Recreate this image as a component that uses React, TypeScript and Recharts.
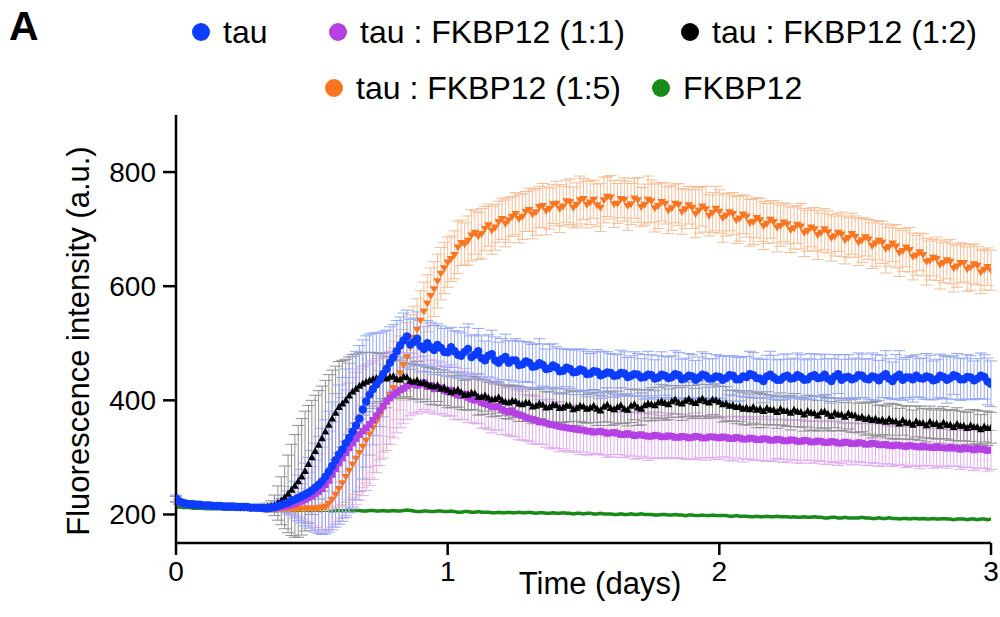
import React from 'react';
import { ComposedChart, Line, XAxis, YAxis, ErrorBar } from 'recharts';

// Sampling grid (days), 20 readings per quarter-day row
const times = [
  0, 0.0125, 0.025, 0.0375, 0.05, 0.0625, 0.075, 0.0875, 0.1, 0.1125, 0.125, 0.1375, 0.15, 0.1625, 0.175, 0.1875, 0.2, 0.2125, 0.225, 0.2375,
  0.25, 0.2625, 0.275, 0.2875, 0.3, 0.3125, 0.325, 0.3375, 0.35, 0.3625, 0.375, 0.3875, 0.4, 0.4125, 0.425, 0.4375, 0.45, 0.4625, 0.475, 0.4875,
  0.5, 0.5125, 0.525, 0.5375, 0.55, 0.5625, 0.575, 0.5875, 0.6, 0.6125, 0.625, 0.6375, 0.65, 0.6625, 0.675, 0.6875, 0.7, 0.7125, 0.725, 0.7375,
  0.75, 0.7625, 0.775, 0.7875, 0.8, 0.8125, 0.825, 0.8375, 0.85, 0.8625, 0.875, 0.8875, 0.9, 0.9125, 0.925, 0.9375, 0.95, 0.9625, 0.975, 0.9875,
  1.0, 1.0125, 1.025, 1.0375, 1.05, 1.0625, 1.075, 1.0875, 1.1, 1.1125, 1.125, 1.1375, 1.15, 1.1625, 1.175, 1.1875, 1.2, 1.2125, 1.225, 1.2375,
  1.25, 1.2625, 1.275, 1.2875, 1.3, 1.3125, 1.325, 1.3375, 1.35, 1.3625, 1.375, 1.3875, 1.4, 1.4125, 1.425, 1.4375, 1.45, 1.4625, 1.475, 1.4875,
  1.5, 1.5125, 1.525, 1.5375, 1.55, 1.5625, 1.575, 1.5875, 1.6, 1.6125, 1.625, 1.6375, 1.65, 1.6625, 1.675, 1.6875, 1.7, 1.7125, 1.725, 1.7375,
  1.75, 1.7625, 1.775, 1.7875, 1.8, 1.8125, 1.825, 1.8375, 1.85, 1.8625, 1.875, 1.8875, 1.9, 1.9125, 1.925, 1.9375, 1.95, 1.9625, 1.975, 1.9875,
  2.0, 2.0125, 2.025, 2.0375, 2.05, 2.0625, 2.075, 2.0875, 2.1, 2.1125, 2.125, 2.1375, 2.15, 2.1625, 2.175, 2.1875, 2.2, 2.2125, 2.225, 2.2375,
  2.25, 2.2625, 2.275, 2.2875, 2.3, 2.3125, 2.325, 2.3375, 2.35, 2.3625, 2.375, 2.3875, 2.4, 2.4125, 2.425, 2.4375, 2.45, 2.4625, 2.475, 2.4875,
  2.5, 2.5125, 2.525, 2.5375, 2.55, 2.5625, 2.575, 2.5875, 2.6, 2.6125, 2.625, 2.6375, 2.65, 2.6625, 2.675, 2.6875, 2.7, 2.7125, 2.725, 2.7375,
  2.75, 2.7625, 2.775, 2.7875, 2.8, 2.8125, 2.825, 2.8375, 2.85, 2.8625, 2.875, 2.8875, 2.9, 2.9125, 2.925, 2.9375, 2.95, 2.9625, 2.975, 2.9875,
  3.0,
];

// tau
const tau = [
  228, 223, 220, 219, 218, 218, 217, 217, 216, 216, 216, 215, 215, 215, 214, 214, 214, 214, 213, 213,
  213, 213, 212, 212, 212, 212, 211, 211, 212, 213, 215, 217, 219, 221, 224, 226, 229, 232, 235, 238,
  242, 247, 252, 258, 266, 275, 285, 295, 305, 314, 325, 334, 345, 356, 368, 384, 398, 410, 420, 428,
  436, 446, 455, 466, 475, 486, 496, 505, 512, 498, 502, 508, 495, 490, 500, 493, 488, 497, 492, 485,
  484, 493, 486, 480, 478, 485, 490, 476, 480, 486, 474, 470, 478, 481, 470, 466, 472, 476, 466, 470,
  470, 462, 463, 468, 466, 459, 460, 465, 462, 455, 456, 461, 458, 451, 452, 457, 455, 449, 450, 454,
  452, 446, 447, 451, 450, 444, 446, 449, 448, 443, 444, 448, 447, 441, 443, 446, 445, 440, 441, 445,
  444, 438, 440, 445, 443, 439, 441, 446, 444, 437, 439, 443, 442, 436, 440, 445, 443, 438, 438, 442,
  441, 436, 439, 444, 443, 437, 437, 442, 441, 446, 444, 439, 438, 434, 442, 445, 440, 436, 436, 441,
  443, 438, 439, 444, 441, 436, 437, 442, 444, 439, 440, 445, 438, 434, 442, 446, 436, 440, 441, 437,
  439, 444, 443, 438, 437, 442, 440, 435, 442, 446, 438, 434, 441, 445, 436, 440, 440, 437, 443, 439,
  438, 442, 440, 435, 437, 443, 441, 436, 439, 444, 442, 437, 437, 441, 440, 435, 438, 443, 441, 433,
  429,
];
const tauErr = [
  6, 4, 3, 3, 3, 3, 3, 3, 3, 3, 3, 3, 3, 3, 3, 3, 3, 3, 3, 3,
  3, 3, 3, 3, 3, 3, 4, 4, 5, 6, 8, 11, 15, 20, 25, 32, 40, 47, 55, 62,
  70, 78, 85, 93, 100, 106, 112, 117, 122, 126, 130, 131, 132, 130, 128, 122, 115, 106, 98, 90,
  82, 75, 68, 63, 58, 54, 50, 48, 46, 44, 42, 47, 45, 39, 40, 44, 43, 37, 38, 41,
  42, 35, 36, 41, 40, 43, 44, 37, 35, 40, 39, 34, 37, 42, 41, 36, 36, 40, 38, 35,
  38, 42, 40, 35, 35, 39, 39, 43, 37, 35, 42, 38, 36, 40, 38, 33, 34, 39, 40, 36,
  37, 40, 35, 34, 39, 41, 40, 36, 34, 38, 36, 40, 38, 34, 35, 39, 37, 33, 39, 41,
  36, 33, 38, 40, 34, 37, 37, 41, 40, 35, 35, 39, 38, 34, 36, 40, 39, 35, 35, 38,
  37, 41, 39, 34, 35, 39, 38, 35, 36, 40, 40, 35, 34, 38, 37, 41, 39, 35, 36, 40,
  38, 34, 35, 39, 39, 35, 36, 40, 37, 33, 40, 36, 35, 39, 38, 34, 36, 40, 39, 35,
  35, 39, 38, 34, 36, 41, 40, 35, 37, 41, 35, 33, 39, 42, 36, 35, 38, 40, 37, 34,
  36, 40, 39, 34, 35, 38, 38, 41, 37, 34, 40, 37, 36, 39, 38, 34, 35, 40, 39, 41,
  40,
];

// tau : FKBP12 (1:1)
const ratio11 = [
  227, 222, 220, 219, 218, 218, 217, 217, 216, 216, 215, 215, 215, 214, 214, 214, 213, 213, 213, 213,
  212, 212, 212, 212, 211, 211, 211, 211, 211, 211, 212, 213, 214, 215, 217, 219, 221, 223, 226, 229,
  232, 236, 240, 245, 252, 260, 270, 280, 290, 299, 308, 317, 325, 333, 340, 346, 352, 358, 365, 373,
  382, 390, 398, 404, 410, 414, 418, 421, 425, 428, 430, 426, 428, 431, 424, 426, 420, 423, 422, 417,
  415, 418, 412, 409, 408, 411, 405, 402, 400, 403, 396, 394, 392, 389, 388, 390, 384, 381, 380, 382,
  377, 375, 373, 370, 368, 367, 365, 362, 362, 360, 358, 357, 356, 354, 353, 352, 351, 350, 349, 348,
  348, 346, 346, 344, 345, 346, 344, 342, 343, 344, 342, 340, 340, 342, 340, 338, 339, 340, 338, 337,
  337, 339, 338, 336, 336, 338, 337, 335, 335, 337, 336, 334, 335, 337, 336, 334, 334, 336, 336, 335,
  334, 336, 335, 333, 333, 335, 334, 332, 332, 334, 333, 331, 331, 333, 332, 330, 330, 332, 331, 329,
  329, 331, 330, 328, 328, 330, 329, 327, 327, 329, 328, 326, 326, 328, 327, 325, 325, 327, 326, 324,
  324, 326, 325, 323, 323, 325, 324, 322, 322, 323, 321, 320, 322, 321, 320, 319, 321, 320, 319, 318,
  320, 318, 318, 317, 319, 317, 317, 316, 318, 316, 316, 314, 317, 315, 315, 313, 316, 314, 314, 312,
  313,
];
const ratio11Err = [
  5, 4, 3, 3, 3, 3, 3, 3, 3, 3, 3, 3, 3, 3, 3, 3, 3, 3, 3, 3,
  3, 3, 3, 3, 3, 3, 3, 3, 3, 3, 3, 5, 8, 11, 15, 20, 25, 31, 38, 45,
  52, 59, 66, 73, 80, 86, 92, 97, 102, 106, 110, 113, 115, 116, 115, 113, 110, 107, 104, 100,
  96, 91, 86, 81, 76, 71, 66, 62, 58, 55, 52, 50, 48, 47, 46, 45, 44, 46, 45, 43,
  43, 45, 46, 42, 42, 45, 44, 41, 41, 44, 45, 42, 43, 46, 40, 42, 44, 41, 42, 45,
  41, 44, 43, 40, 40, 43, 42, 39, 39, 42, 43, 40, 41, 44, 38, 40, 42, 39, 40, 43,
  39, 42, 41, 38, 38, 41, 40, 42, 42, 39, 37, 40, 40, 38, 38, 41, 41, 38, 39, 42,
  38, 41, 40, 37, 37, 40, 39, 36, 36, 39, 40, 37, 38, 41, 37, 35, 39, 37, 36, 38,
  38, 35, 36, 39, 39, 36, 37, 40, 35, 37, 38, 36, 36, 39, 39, 36, 37, 34, 35, 38,
  37, 34, 35, 38, 38, 35, 34, 37, 37, 34, 35, 38, 38, 35, 36, 39, 36, 33, 34, 37,
  36, 33, 34, 37, 37, 34, 35, 38, 37, 34, 33, 36, 36, 33, 34, 37, 37, 34, 35, 38,
  35, 32, 33, 36, 36, 33, 32, 35, 34, 31, 32, 35, 35, 32, 33, 36, 36, 33, 33, 36,
  34,
];

// tau : FKBP12 (1:2)
const ratio12 = [
  227, 222, 220, 219, 218, 218, 217, 217, 216, 216, 216, 215, 215, 215, 214, 214, 214, 214, 213, 213,
  213, 213, 212, 212, 212, 212, 212, 213, 214, 216, 220, 224, 230, 236, 243, 250, 258, 266, 276, 288,
  300, 311, 322, 333, 345, 357, 368, 378, 388, 394, 400, 408, 415, 420, 425, 429, 432, 435, 437, 439,
  440, 443, 438, 441, 442, 437, 436, 441, 440, 434, 432, 435, 430, 431, 428, 425, 424, 426, 420, 422,
  418, 414, 416, 418, 414, 409, 410, 413, 412, 406, 406, 408, 404, 401, 402, 405, 400, 397, 396, 399,
  398, 394, 393, 396, 395, 389, 390, 394, 392, 387, 388, 392, 391, 386, 387, 391, 390, 384, 386, 390,
  389, 385, 387, 390, 385, 382, 389, 392, 386, 384, 388, 391, 385, 383, 390, 393, 387, 385, 391, 394,
  393, 391, 396, 398, 395, 393, 398, 401, 396, 394, 399, 402, 397, 395, 400, 403, 398, 396, 401, 400,
  397, 393, 394, 390, 391, 388, 389, 385, 387, 384, 388, 383, 385, 381, 386, 383, 383, 379, 385, 381,
  381, 378, 383, 380, 379, 375, 381, 378, 377, 373, 379, 380, 376, 372, 378, 375, 375, 371, 377, 374,
  373, 369, 371, 367, 369, 365, 368, 364, 366, 362, 367, 363, 363, 359, 365, 361, 361, 357, 363, 360,
  360, 356, 362, 358, 359, 355, 361, 357, 357, 353, 358, 355, 355, 351, 356, 353, 353, 349, 354, 351,
  352,
];
const ratio12Err = [
  5, 4, 3, 3, 3, 3, 3, 3, 3, 3, 3, 3, 3, 3, 3, 3, 3, 3, 3, 3,
  3, 3, 3, 3, 3, 4, 5, 7, 10, 18, 30, 42, 55, 68, 80, 90, 98, 102, 105, 103,
  100, 98, 95, 92, 90, 88, 85, 82, 80, 76, 72, 68, 65, 61, 58, 55, 52, 49, 47, 44,
  42, 40, 38, 36, 35, 34, 33, 35, 34, 31, 31, 33, 33, 29, 30, 32, 32, 28, 29, 31,
  31, 27, 28, 30, 30, 26, 27, 29, 29, 32, 31, 27, 28, 30, 30, 27, 27, 29, 29, 26,
  28, 31, 30, 27, 27, 30, 29, 26, 31, 28, 28, 30, 29, 26, 26, 29, 27, 31, 30, 27,
  28, 25, 26, 29, 29, 26, 27, 30, 30, 27, 28, 31, 26, 28, 29, 27, 31, 28, 27, 25,
  29, 26, 27, 30, 30, 27, 28, 25, 26, 29, 27, 30, 29, 26, 28, 31, 30, 27, 26, 29,
  28, 31, 30, 27, 27, 29, 26, 28, 30, 27, 28, 31, 27, 29, 29, 26, 26, 28, 28, 25,
  27, 30, 29, 26, 26, 29, 28, 30, 30, 27, 27, 30, 29, 26, 26, 28, 28, 25, 27, 30,
  29, 26, 26, 28, 28, 31, 30, 27, 26, 28, 28, 31, 30, 27, 26, 29, 29, 26, 27, 30,
  26, 29, 28, 25, 27, 30, 28, 25, 27, 30, 29, 26, 26, 28, 28, 31, 29, 26, 27, 30,
  27,
];

// tau : FKBP12 (1:5)
const ratio15 = [
  227, 222, 220, 219, 218, 218, 217, 217, 216, 216, 215, 215, 214, 214, 214, 214, 213, 213, 213, 213,
  212, 212, 212, 212, 211, 211, 211, 211, 211, 211, 210, 210, 210, 210, 210, 210, 210, 210, 211, 211,
  210, 211, 211, 212, 214, 219, 226, 235, 245, 255, 266, 277, 288, 298, 308, 319, 330, 341, 352, 363,
  374, 386, 398, 410, 422, 435, 448, 462, 476, 493, 510, 524, 540, 556, 570, 583, 595, 609, 622, 632,
  642, 648, 655, 668, 676, 674, 680, 689, 694, 688, 692, 701, 707, 698, 703, 713, 718, 710, 716, 722,
  727, 718, 722, 731, 734, 726, 730, 739, 741, 732, 736, 744, 745, 736, 740, 749, 748, 738, 743, 751,
  753, 743, 747, 752, 742, 738, 751, 757, 756, 744, 745, 753, 752, 741, 744, 754, 751, 739, 743, 752,
  749, 737, 741, 748, 745, 733, 737, 745, 743, 731, 735, 742, 738, 727, 733, 740, 735, 724, 729, 736,
  731, 720, 724, 730, 727, 716, 719, 726, 722, 711, 713, 720, 716, 706, 710, 717, 713, 703, 706, 712,
  709, 699, 702, 708, 705, 694, 697, 703, 700, 690, 694, 700, 695, 685, 688, 694, 691, 681, 685, 692,
  687, 677, 681, 686, 682, 671, 675, 680, 677, 666, 669, 675, 670, 659, 662, 668, 664, 652, 654, 660,
  655, 643, 645, 650, 648, 638, 641, 646, 643, 632, 635, 641, 641, 630, 633, 639, 636, 625, 629, 634,
  628,
];
const ratio15Err = [
  5, 4, 3, 3, 3, 3, 3, 3, 3, 3, 3, 3, 3, 3, 3, 3, 3, 3, 3, 3,
  3, 3, 3, 3, 3, 3, 3, 3, 3, 3, 3, 3, 3, 3, 3, 3, 3, 3, 3, 3,
  3, 3, 4, 5, 6, 10, 15, 22, 30, 38, 45, 52, 58, 63, 68, 72, 75, 77, 78, 78,
  78, 77, 75, 73, 70, 68, 65, 62, 60, 57, 55, 54, 52, 51, 50, 49, 48, 47, 46, 45,
  44, 40, 42, 46, 40, 37, 43, 45, 38, 41, 44, 39, 37, 42, 40, 36, 36, 41, 39, 35,
  37, 42, 40, 35, 38, 43, 41, 36, 39, 42, 36, 34, 39, 42, 35, 37, 40, 36, 38, 42,
  36, 41, 39, 33, 37, 42, 40, 35, 38, 41, 35, 33, 38, 43, 36, 35, 39, 34, 36, 41,
  37, 42, 40, 34, 36, 41, 39, 34, 37, 40, 34, 33, 37, 42, 40, 35, 40, 36, 35, 39,
  38, 43, 36, 33, 37, 41, 40, 34, 36, 41, 40, 35, 38, 42, 35, 33, 37, 43, 36, 34,
  35, 40, 37, 33, 40, 42, 36, 34, 38, 43, 34, 36, 37, 41, 35, 33, 39, 42, 35, 36,
  36, 41, 39, 33, 35, 40, 40, 34, 37, 43, 34, 32, 38, 42, 36, 34, 39, 41, 35, 33,
  37, 41, 34, 32, 38, 43, 35, 33, 39, 42, 37, 35, 34, 39, 40, 35, 34, 38, 36, 33,
  35,
];

// FKBP12 alone
const fkbp = [
  213, 213, 212, 212, 212, 211, 211, 211, 211, 210, 210, 210, 210, 210, 210, 209, 209, 209, 209, 209,
  209, 209, 208, 209, 208, 208, 208, 208, 208, 207, 207, 208, 208, 207, 207, 207, 207, 208, 208, 207,
  207, 208, 207, 207, 208, 207, 206, 207, 207, 206, 207, 208, 206, 207, 207, 206, 206, 207, 207, 206,
  206, 207, 206, 206, 207, 206, 206, 207, 208, 207, 206, 205, 205, 206, 206, 205, 205, 206, 206, 205,
  205, 206, 205, 204, 204, 205, 205, 204, 204, 205, 204, 204, 204, 203, 203, 204, 203, 203, 204, 203,
  203, 204, 203, 203, 204, 203, 202, 203, 203, 202, 202, 203, 202, 202, 203, 202, 202, 201, 202, 202,
  201, 202, 202, 201, 201, 202, 201, 201, 201, 200, 200, 201, 200, 200, 201, 200, 200, 201, 200, 200,
  200, 199, 199, 200, 200, 199, 199, 200, 199, 199, 198, 199, 199, 198, 198, 199, 198, 198, 199, 198,
  198, 198, 198, 197, 197, 198, 197, 197, 197, 196, 196, 197, 196, 196, 197, 196, 196, 197, 196, 196,
  196, 195, 196, 195, 195, 196, 195, 195, 196, 195, 195, 194, 194, 195, 195, 194, 194, 195, 194, 194,
  194, 194, 195, 194, 194, 193, 193, 194, 193, 193, 194, 193, 193, 192, 193, 193, 192, 193, 193, 192,
  193, 192, 192, 193, 192, 192, 193, 192, 192, 191, 192, 192, 192, 191, 192, 192, 191, 192, 192, 191,
  192,
];

const xTicks = [0, 1, 2, 3];
const yTicks = [200, 400, 600, 800];

const legendRow1 = ['tau', 'tau : FKBP12 (1:1)', 'tau : FKBP12 (1:2)'];
const legendRow2 = ['tau : FKBP12 (1:5)', 'FKBP12'];

const BLUE = '#0b3cff';
const PURPLE = '#b540e4';
const BLACK = '#000000';
const ORANGE = '#fb7420';
const GREEN = '#178a17';

const rows = times.map((t, i) => ({
  t,
  tau: tau[i],
  tauErr: tauErr[i],
  r11: ratio11[i],
  r11Err: ratio11Err[i],
  r12: ratio12[i],
  r12Err: ratio12Err[i],
  r15: ratio15[i],
  r15Err: ratio15Err[i],
  fk: fkbp[i],
}));

const FONT = '"Liberation Sans", Arial, Helvetica, sans-serif';

const circleDot = (p: any) => {
  if (p.cx == null || p.cy == null) return <g key={p.index} />;
  return <circle key={p.index} cx={p.cx} cy={p.cy} r={4.2} fill={BLUE} />;
};
const squareDot = (p: any) => {
  if (p.cx == null || p.cy == null) return <g key={p.index} />;
  return <rect key={p.index} x={p.cx - 3.3} y={p.cy - 3.3} width={6.6} height={6.6} fill={PURPLE} />;
};
const triUpDot = (p: any) => {
  if (p.cx == null || p.cy == null) return <g key={p.index} />;
  const { cx, cy } = p;
  return (
    <polygon
      key={p.index}
      points={`${cx},${cy - 4.2} ${cx - 3.8},${cy + 2.8} ${cx + 3.8},${cy + 2.8}`}
      fill={BLACK}
    />
  );
};
const triDownDot = (p: any) => {
  if (p.cx == null || p.cy == null) return <g key={p.index} />;
  const { cx, cy } = p;
  return (
    <polygon
      key={p.index}
      points={`${cx - 4.2},${cy - 2.8} ${cx + 4.2},${cy - 2.8} ${cx},${cy + 4.2}`}
      fill={ORANGE}
    />
  );
};

export default function App() {
  const legendColors1 = [BLUE, PURPLE, BLACK];
  const legendDotX1 = [201, 338, 690];
  const legendColors2 = [ORANGE, GREEN];
  const legendDotX2 = [334, 661];
  return (
    <div
      style={{
        position: 'absolute',
        left: 0,
        top: 0,
        width: 1000,
        height: 617,
        background: '#fff',
        fontFamily: FONT,
      }}
    >
      <ComposedChart
        width={1000}
        height={617}
        data={rows}
        margin={{ top: 115, right: 9, bottom: 0, left: 0 }}
      >
        <XAxis
          dataKey="t"
          type="number"
          domain={[0, 3]}
          ticks={xTicks}
          height={74}
          tickSize={12}
          tickMargin={6}
          axisLine={{ stroke: '#000', strokeWidth: 2.5 }}
          tickLine={{ stroke: '#000', strokeWidth: 2.5 }}
          tick={{ fontSize: 28, fill: '#000', fontFamily: FONT }}
          allowDataOverflow
        />
        <YAxis
          type="number"
          domain={[150, 900]}
          ticks={yTicks}
          width={176}
          tickSize={13}
          tickMargin={7}
          axisLine={{ stroke: '#000', strokeWidth: 2.5 }}
          tickLine={{ stroke: '#000', strokeWidth: 2.5 }}
          tick={{ fontSize: 28, fill: '#000', fontFamily: FONT }}
          allowDataOverflow
        />
        <Line
          dataKey="fk"
          stroke={GREEN}
          strokeWidth={3.5}
          dot={false}
          activeDot={false}
          isAnimationActive={false}
        />
        <Line
          dataKey="r15"
          stroke="none"
          dot={triDownDot}
          activeDot={false}
          isAnimationActive={false}
        >
          <ErrorBar dataKey="r15Err" direction="y" width={6} stroke="#f7bd93" strokeWidth={1} />
        </Line>
        <Line
          dataKey="r11"
          stroke="none"
          dot={squareDot}
          activeDot={false}
          isAnimationActive={false}
        >
          <ErrorBar dataKey="r11Err" direction="y" width={6} stroke="#e0abf2" strokeWidth={1} />
        </Line>
        <Line
          dataKey="r12"
          stroke="none"
          dot={triUpDot}
          activeDot={false}
          isAnimationActive={false}
        >
          <ErrorBar dataKey="r12Err" direction="y" width={6} stroke="#909090" strokeWidth={1} />
        </Line>
        <Line
          dataKey="tau"
          stroke="none"
          dot={circleDot}
          activeDot={false}
          isAnimationActive={false}
        >
          <ErrorBar dataKey="tauErr" direction="y" width={6} stroke="#94a6f6" strokeWidth={1} />
        </Line>
      </ComposedChart>
      <svg
        width={1000}
        height={617}
        style={{ position: 'absolute', left: 0, top: 0, pointerEvents: 'none' }}
        fontFamily={FONT}
      >
        <text x={9} y={40} fontSize={41} fontWeight="bold" fill="#000">
          A
        </text>
        {legendRow1.map((name, i) => (
          <g key={name}>
            <circle cx={legendDotX1[i]} cy={32} r={9} fill={legendColors1[i]} />
            <text x={legendDotX1[i] + 22} y={43} fontSize={32} fill="#000">
              {name}
            </text>
          </g>
        ))}
        {legendRow2.map((name, i) => (
          <g key={name}>
            <circle cx={legendDotX2[i]} cy={88} r={9} fill={legendColors2[i]} />
            <text x={legendDotX2[i] + 22} y={99} fontSize={32} fill="#000">
              {name}
            </text>
          </g>
        ))}
        <text
          transform="translate(78,341) rotate(-90)"
          textAnchor="middle"
          dominantBaseline="central"
          fontSize={31}
          fill="#000"
        >
          Fluorescence intensity (a.u.)
        </text>
        <text x={600} y={594} textAnchor="middle" fontSize={31} fill="#000">
          Time (days)
        </text>
      </svg>
    </div>
  );
}
